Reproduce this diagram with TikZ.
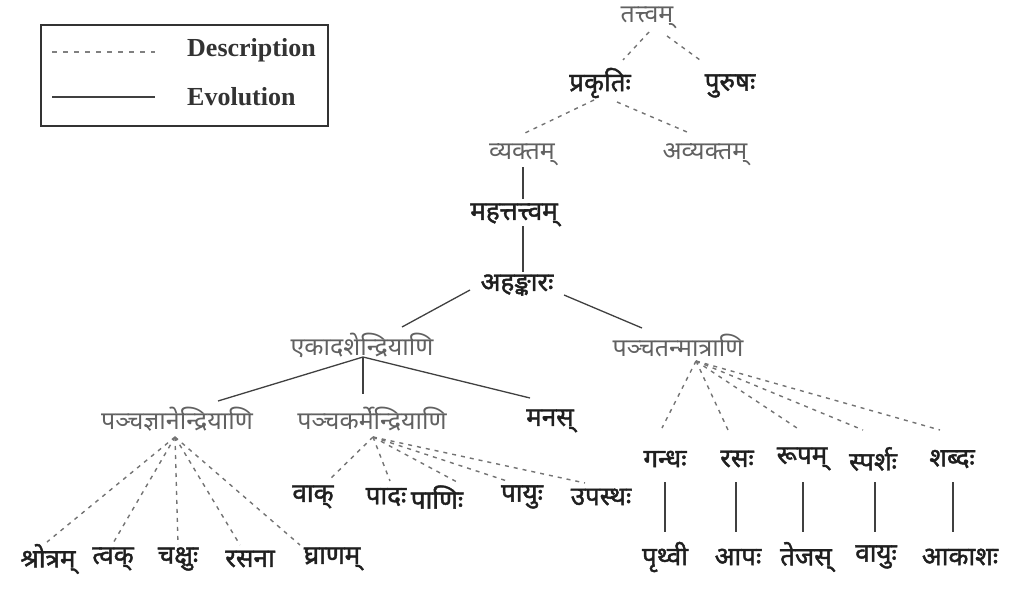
\documentclass[tikz,border=0pt]{standalone}
\usepackage{fontspec}
\setmainfont{Liberation Serif}
\newfontfamily\deva[Script=Devanagari]{Noto Sans}
\newfontfamily\devab[Script=Devanagari,FakeBold=1.6]{Noto Sans}
\begin{document}
\begin{tikzpicture}[x=1pt,y=-1pt,
  lite/.style={font=\deva\fontsize{25}{28}\selectfont, text=black!62, inner sep=0pt, yshift=-3pt},
  term/.style={font=\devab\fontsize{26}{29}\selectfont, text=black!88, inner sep=0pt, yshift=-3pt},
  legtext/.style={font=\bfseries\fontsize{26}{29}\selectfont, text=black!80, anchor=west, inner sep=0pt},
  desc/.style={draw=black!55, dash pattern=on 4pt off 5pt, line width=1.4pt},
  legdesc/.style={draw=black!50, dash pattern=on 5pt off 6pt, line width=1.8pt},
  evol/.style={draw=black!75, line width=1.3pt}]
\useasboundingbox (0,0) rectangle (1011,589);

% legend
\node[draw=black!80, line width=1.5pt, minimum width=287, minimum height=101, anchor=north west, inner sep=0pt] (legend) at (40,24) {};
\coordinate (ld1) at (52,52);  \coordinate (ld2) at (155,52);
\coordinate (le1) at (52,97);  \coordinate (le2) at (155,97);
\draw[legdesc] (ld1) -- (ld2);
\draw[evol] (le1) -- (le2);
\node[legtext] (ldesc) at (187,50) {Description};
\node[legtext] (levol) at (187,97) {Evolution};

% upper levels
\node[lite] (tattvam) at (647,15) {तत्त्वम्};
\node[term] (prakriti) at (600,80) {प्रकृतिः};
\node[term] (purusha) at (730,83) {पुरुषः};
\node[lite] (vyakta) at (522,152) {व्यक्तम्};
\node[lite] (avyakta) at (705,152) {अव्यक्तम्};
\node[term] (mahat) at (514,212) {महत्तत्त्वम्};
\node[term] (ahamkara) at (517,282) {अहङ्कारः};
\node[lite] (ekadasha) at (362,342) {एकादशेन्द्रियाणि};
\node[lite] (tanmatra) at (678,342) {पञ्चतन्मात्राणि};
\node[lite] (jnana) at (177,416) {पञ्चज्ञानेन्द्रियाणि};
\node[lite] (karma) at (372,416) {पञ्चकर्मेन्द्रियाणि};
\node[term] (manas) at (550,418) {मनस्};

% organs of knowledge
\node[term] (shrotra) at (48,556) {श्रोत्रम्};
\node[term] (tvak) at (113,556) {त्वक्};
\node[term] (chakshu) at (178,556) {चक्षुः};
\node[term] (rasana) at (250,556) {रसना};
\node[term] (ghrana) at (332,556) {घ्राणम्};

% organs of action
\node[term] (vak) at (313,494) {वाक्};
\node[term] (pada) at (386,494) {पादः};
\node[term] (pani) at (437,494) {पाणिः};
\node[term] (payu) at (522,494) {पायुः};
\node[term] (upastha) at (601,494) {उपस्थः};

% subtle elements
\node[term] (gandha) at (665,456) {गन्धः};
\node[term] (rasa) at (737,456) {रसः};
\node[term] (rupa) at (802,456) {रूपम्};
\node[term] (sparsha) at (873,456) {स्पर्शः};
\node[term] (shabda) at (952,456) {शब्दः};

% gross elements
\node[term] (prithvi) at (665,554) {पृथ्वी};
\node[term] (apa) at (738,554) {आपः};
\node[term] (tejas) at (806,554) {तेजस्};
\node[term] (vayu) at (876,554) {वायुः};
\node[term] (akasha) at (960,554) {आकाशः};

% connector end points next to the labels
\coordinate (tatB1) at (649,32);  \coordinate (praT) at (623,60);
\coordinate (tatB2) at (667,36);  \coordinate (purT) at (700,60);
\coordinate (praB1) at (594,100); \coordinate (vyaT) at (525,133);
\coordinate (praB2) at (617,102); \coordinate (avyT) at (687,132);
\coordinate (vyaB) at (523,167);  \coordinate (mahT) at (523,199);
\coordinate (mahB) at (523,226);  \coordinate (ahaT) at (523,272);
\coordinate (ahaB1) at (470,290); \coordinate (ekaT) at (402,327);
\coordinate (ahaB2) at (564,295); \coordinate (tanT) at (642,328);
\coordinate (ekA) at (363,357);
\coordinate (jnaT) at (218,401);  \coordinate (karT) at (363,394);
\coordinate (manT) at (530,398);
\coordinate (jnA) at (175,437);
\coordinate (kaA) at (373,437);
\coordinate (tmA) at (696,361);
\coordinate (shrT) at (47,542);  \coordinate (tvaT) at (112,545);
\coordinate (chaT) at (178,545); \coordinate (rasnT) at (240,545);
\coordinate (ghrT) at (300,545);
\coordinate (vakT) at (328,481);  \coordinate (padT) at (390,481);
\coordinate (panT) at (457,482);  \coordinate (payT) at (507,481);
\coordinate (upaT) at (585,483);
\coordinate (ganT) at (662,428);  \coordinate (rasT) at (728,430);
\coordinate (rupT) at (800,430);  \coordinate (spaT) at (863,430);
\coordinate (shaT) at (940,430);
\coordinate (ganB) at (665,482);  \coordinate (pthT) at (665,532);
\coordinate (rasB) at (736,482);  \coordinate (apaT) at (736,532);
\coordinate (rupB) at (803,482);  \coordinate (tejT) at (803,532);
\coordinate (spaB) at (875,482);  \coordinate (vayT) at (875,532);
\coordinate (shaB) at (953,482);  \coordinate (akaT) at (953,532);

% description links
\draw[desc] (tatB1) -- (praT);
\draw[desc] (tatB2) -- (purT);
\draw[desc] (praB1) -- (vyaT);
\draw[desc] (praB2) -- (avyT);
\foreach \c in {shrT,tvaT,chaT,rasnT,ghrT} \draw[desc] (jnA) -- (\c);
\foreach \c in {vakT,padT,panT,payT,upaT} \draw[desc] (kaA) -- (\c);
\foreach \c in {ganT,rasT,rupT,spaT,shaT} \draw[desc] (tmA) -- (\c);

% evolution links
\draw[evol] (vyaB) -- (mahT);
\draw[evol] (mahB) -- (ahaT);
\draw[evol] (ahaB1) -- (ekaT);
\draw[evol] (ahaB2) -- (tanT);
\draw[evol] (ekA) -- (jnaT);
\draw[evol] (ekA) -- (karT);
\draw[evol] (ekA) -- (manT);
\draw[evol] (ganB) -- (pthT);
\draw[evol] (rasB) -- (apaT);
\draw[evol] (rupB) -- (tejT);
\draw[evol] (spaB) -- (vayT);
\draw[evol] (shaB) -- (akaT);
\end{tikzpicture}
\end{document}
